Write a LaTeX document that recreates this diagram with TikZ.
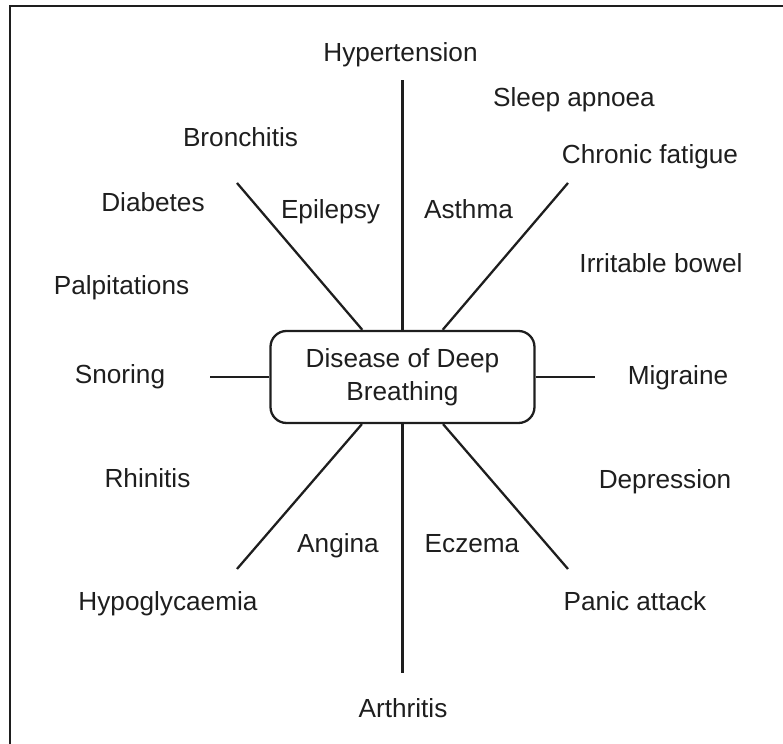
\documentclass[tikz,border=0pt]{standalone}
\usepackage{fontspec}
\setmainfont{Liberation Sans}
\usepackage{xcolor}
\usetikzlibrary{positioning}
\definecolor{ink}{HTML}{1E1E1E}
\tikzset{
	hub/.style={draw=ink, line width=1.3pt, rounded corners=0.32cm,
		minimum width=5.28cm, minimum height=1.84cm, inner sep=0pt,
		align=center, text=ink},
	ailment/.style={anchor=base, inner sep=0pt, text=ink},
	spoke/.style={draw=ink, line width=1.3pt},
}

\begin{document}
\begin{tikzpicture}[font=\fontsize{14.9}{18.8}\selectfont]
		\useasboundingbox (-8.05,-7.34) rectangle (7.61,7.54);
		\draw[ink, line width=1.5pt] (-7.85,-7.34) -- (-7.85,7.42) -- (7.61,7.42);
		\node[hub] (hub) at (0,0){Disease of Deep\\Breathing};
		% free ends of the spokes
		\coordinate (up) at (0,5.94);
		\coordinate (down) at (0,-5.92);
		\coordinate (left) at (-3.85,0);
		\coordinate (right) at (3.85,0);
		\coordinate (nw) at (-3.31,3.88);
		\coordinate (ne) at (3.31,3.88);
		\coordinate (sw) at (-3.31,-3.84);
		\coordinate (se) at (3.31,-3.84);
		\foreach \e in {up,down,left,right,nw,ne,sw,se}
			\draw[spoke] (hub) -- (\e);
		% labels round the hub
		\node[ailment] (hyper) at (-0.04,6.30){Hypertension};
		\node[ailment] (sleep) at (3.43,5.40){Sleep apnoea};
		\node[ailment] (bronch) at (-3.24,4.60){Bronchitis};
		\node[ailment] (fatigue) at (4.95,4.26){Chronic fatigue};
		\node[ailment] (diab) at (-4.99,3.30){Diabetes};
		\node[ailment] (epil) at (-1.44,3.16){Epilepsy};
		\node[ailment] (asthma) at (1.32,3.16){Asthma};
		\node[ailment] (bowel) at (5.17,2.08){Irritable bowel};
		\node[ailment] (palp) at (-5.62,1.64){Palpitations};
		\node[ailment] (snore) at (-5.65,-0.14){Snoring};
		\node[ailment] (migr) at (5.51,-0.16){Migraine};
		\node[ailment] (rhin) at (-5.10,-2.22){Rhinitis};
		\node[ailment] (depr) at (5.25,-2.24){Depression};
		\node[ailment] (angina) at (-1.29,-3.52){Angina};
		\node[ailment] (eczema) at (1.39,-3.52){Eczema};
		\node[ailment] (hypo) at (-4.69,-4.68){Hypoglycaemia};
		\node[ailment] (panic) at (4.65,-4.68){Panic attack};
		\node[ailment] (arth) at (0.01,-6.82){Arthritis};
	\end{tikzpicture}
\end{document}
